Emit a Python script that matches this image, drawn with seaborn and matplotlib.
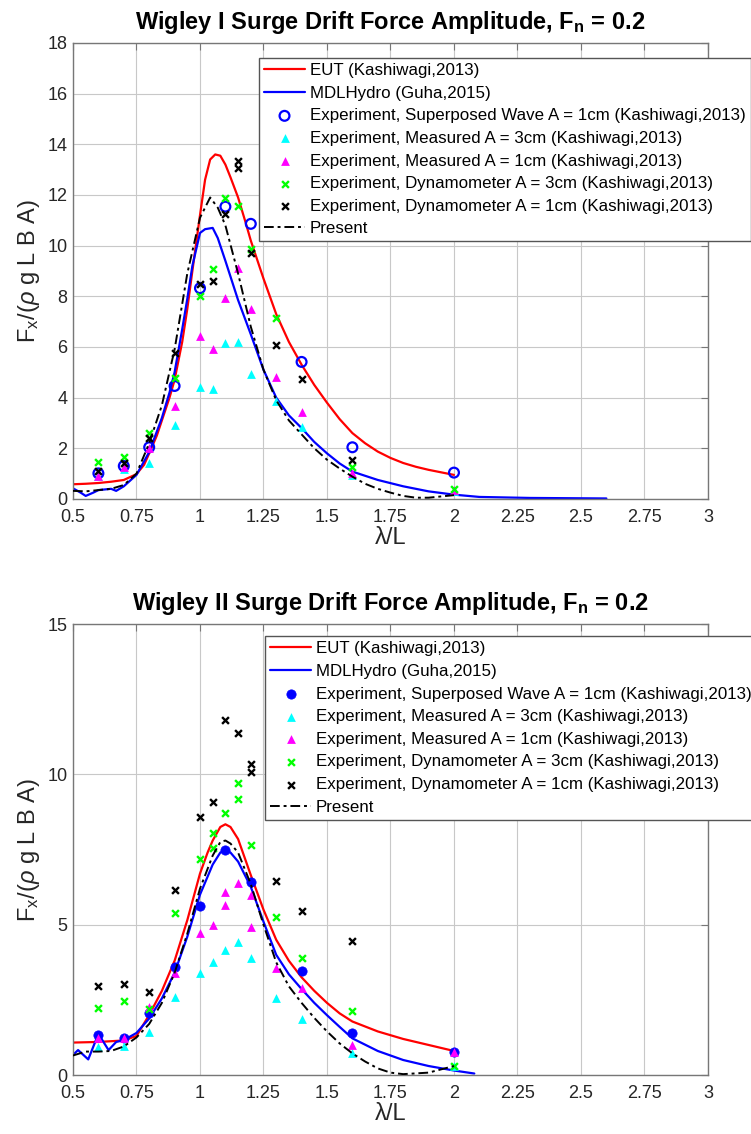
import numpy as np
import pandas as pd
import matplotlib
matplotlib.use("Agg")
import matplotlib.pyplot as plt
import seaborn as sns

# ---------------- data: Wigley I ----------------
w1_eut_x = [0.5, 0.55, 0.6, 0.65, 0.7, 0.75, 0.78, 0.8, 0.83, 0.85, 0.88, 0.9, 0.93, 0.95, 0.97, 1.0, 1.02, 1.04, 1.06, 1.08, 1.1, 1.12, 1.15, 1.18, 1.2, 1.25, 1.3, 1.35, 1.4, 1.45, 1.5, 1.55, 1.6, 1.65, 1.7, 1.75, 1.8, 1.85, 1.9, 1.95, 2.0]
w1_eut_y = [0.58, 0.6, 0.63, 0.68, 0.75, 0.98, 1.35, 1.8, 2.5, 3.1, 4.0, 4.7, 6.2, 7.5, 9.0, 11.2, 12.6, 13.4, 13.6, 13.55, 13.2, 12.7, 11.9, 10.9, 10.2, 8.7, 7.3, 6.2, 5.3, 4.5, 3.8, 3.15, 2.6, 2.2, 1.87, 1.62, 1.42, 1.27, 1.15, 1.05, 0.95]
w1_mdl_x = [0.5, 0.53, 0.55, 0.58, 0.6, 0.65, 0.67, 0.7, 0.75, 0.8, 0.85, 0.88, 0.9, 0.93, 0.95, 0.97, 1.0, 1.02, 1.05, 1.07, 1.1, 1.15, 1.2, 1.25, 1.3, 1.35, 1.4, 1.45, 1.5, 1.55, 1.6, 1.7, 1.8, 1.9, 2.0, 2.1, 2.3, 2.6]
w1_mdl_y = [0.42, 0.25, 0.12, 0.25, 0.35, 0.4, 0.32, 0.5, 0.95, 1.85, 3.2, 4.2, 5.0, 6.7, 7.9, 9.2, 10.5, 10.65, 10.7, 10.3, 9.4, 7.85, 6.5, 5.1, 4.0, 3.3, 2.8, 2.25, 1.8, 1.4, 1.08, 0.75, 0.5, 0.3, 0.17, 0.08, 0.04, 0.02]
w1_pre_x = [0.5, 0.55, 0.6, 0.65, 0.7, 0.75, 0.8, 0.85, 0.9, 0.95, 1.0, 1.04, 1.07, 1.1, 1.15, 1.2, 1.25, 1.3, 1.35, 1.4, 1.45, 1.5, 1.55, 1.6, 1.65, 1.7, 1.75, 1.8, 1.85, 1.9, 2.0]
w1_pre_y = [0.32, 0.3, 0.35, 0.4, 0.55, 1.0, 2.2, 3.7, 5.9, 8.9, 11.1, 11.9, 11.5, 10.8, 8.9, 6.8, 5.1, 3.9, 3.1, 2.55, 2.0, 1.55, 1.2, 0.88, 0.6, 0.4, 0.25, 0.12, 0.05, 0.05, 0.15]

w1_sup_x = [0.6, 0.7, 0.8, 0.9, 1.0, 1.1, 1.2, 1.4, 1.6, 2.0]
w1_sup_y = [1.01, 1.30, 2.04, 4.46, 8.32, 11.54, 10.86, 5.41, 2.04, 1.04]
w1_m3_x = [0.6, 0.7, 0.8, 0.9, 1.0, 1.05, 1.1, 1.15, 1.2, 1.3, 1.4, 1.6, 2.0]
w1_m3_y = [0.9, 1.17, 1.43, 2.92, 4.41, 4.33, 6.17, 6.19, 4.93, 3.88, 2.83, 0.95, 0.3]
w1_m1_x = [0.6, 0.7, 0.8, 0.9, 1.0, 1.05, 1.1, 1.15, 1.2, 1.3, 1.4, 1.6, 2.0]
w1_m1_y = [0.91, 1.28, 2.0, 3.67, 6.43, 5.92, 7.92, 9.13, 7.51, 4.83, 3.45, 1.04, 0.35]
w1_d3_x = [0.6, 0.7, 0.8, 0.9, 1.0, 1.05, 1.1, 1.15, 1.2, 1.3, 1.6, 2.0]
w1_d3_y = [1.47, 1.65, 2.59, 4.76, 8.03, 9.07, 11.87, 11.57, 9.88, 7.16, 1.28, 0.4]
w1_d1_x = [0.6, 0.7, 0.8, 0.9, 1.0, 1.05, 1.1, 1.15, 1.15, 1.2, 1.3, 1.4, 1.6]
w1_d1_y = [1.12, 1.41, 2.40, 5.78, 8.48, 8.62, 11.25, 13.35, 13.05, 9.72, 6.07, 4.73, 1.54]

# ---------------- data: Wigley II ----------------
w2_eut_x = [0.5, 0.6, 0.7, 0.75, 0.8, 0.85, 0.9, 0.95, 1.0, 1.03, 1.05, 1.08, 1.1, 1.12, 1.15, 1.2, 1.25, 1.3, 1.35, 1.4, 1.45, 1.5, 1.55, 1.6, 1.7, 1.8, 1.9, 2.0]
w2_eut_y = [1.08, 1.1, 1.15, 1.3, 2.0, 2.8, 3.8, 5.15, 6.7, 7.4, 7.8, 8.25, 8.34, 8.25, 7.85, 6.65, 5.5, 4.5, 3.8, 3.25, 2.8, 2.4, 2.05, 1.78, 1.45, 1.2, 1.0, 0.8]
w2_mdl_x = [0.5, 0.52, 0.56, 0.6, 0.64, 0.67, 0.7, 0.75, 0.8, 0.85, 0.9, 0.95, 1.0, 1.05, 1.08, 1.1, 1.12, 1.15, 1.2, 1.25, 1.3, 1.35, 1.4, 1.45, 1.5, 1.55, 1.6, 1.7, 1.8, 1.9, 2.0, 2.08]
w2_mdl_y = [0.67, 0.83, 0.52, 1.37, 0.83, 1.1, 1.16, 1.4, 1.88, 2.55, 3.4, 4.6, 6.0, 7.0, 7.4, 7.48, 7.4, 7.1, 6.26, 5.1, 4.0, 3.35, 2.86, 2.4, 1.99, 1.6, 1.22, 0.8, 0.5, 0.3, 0.15, 0.05]
w2_pre_x = [0.5, 0.55, 0.6, 0.65, 0.7, 0.75, 0.8, 0.85, 0.9, 0.95, 1.0, 1.05, 1.08, 1.1, 1.12, 1.15, 1.2, 1.25, 1.3, 1.35, 1.4, 1.45, 1.5, 1.55, 1.6, 1.65, 1.7, 1.75, 1.8, 1.9, 2.0]
w2_pre_y = [0.65, 0.78, 0.78, 0.8, 0.95, 1.25, 1.7, 2.4, 3.4, 4.7, 6.2, 7.3, 7.75, 7.8, 7.7, 7.4, 6.35, 5.0, 3.75, 2.95, 2.4, 1.9, 1.45, 1.05, 0.72, 0.45, 0.22, 0.08, 0.03, 0.08, 0.3]

w2_sup_x = [0.6, 0.7, 0.8, 0.9, 1.0, 1.1, 1.2, 1.4, 1.6, 2.0]
w2_sup_y = [1.33, 1.22, 2.05, 3.60, 5.62, 7.50, 6.43, 3.46, 1.39, 0.78]
w2_m3_x = [0.6, 0.7, 0.8, 0.9, 1.0, 1.05, 1.1, 1.15, 1.2, 1.3, 1.4, 1.6, 2.0]
w2_m3_y = [0.92, 0.97, 1.42, 2.60, 3.40, 3.77, 4.16, 4.43, 3.90, 2.57, 1.86, 0.74, 0.3]
w2_m1_x = [0.6, 0.7, 0.8, 0.9, 1.0, 1.05, 1.1, 1.1, 1.15, 1.2, 1.2, 1.3, 1.4, 1.6, 2.0]
w2_m1_y = [1.22, 1.22, 2.25, 3.40, 4.74, 4.99, 5.65, 6.10, 6.40, 5.99, 4.91, 3.57, 2.88, 1.0, 0.75]
w2_d3_x = [0.6, 0.7, 0.8, 0.9, 1.0, 1.05, 1.05, 1.1, 1.15, 1.15, 1.2, 1.3, 1.4, 1.6, 2.0]
w2_d3_y = [2.24, 2.46, 2.2, 5.38, 7.17, 8.06, 7.54, 8.72, 9.72, 9.18, 7.64, 5.26, 3.88, 2.14, 0.3]
w2_d1_x = [0.6, 0.7, 0.8, 0.9, 1.0, 1.05, 1.1, 1.15, 1.2, 1.2, 1.3, 1.4, 1.6]
w2_d1_y = [2.97, 3.03, 2.75, 6.15, 8.59, 9.09, 11.81, 11.36, 10.34, 10.07, 6.46, 5.45, 4.46]

x_ticks = [0.5, 0.75, 1, 1.25, 1.5, 1.75, 2, 2.25, 2.5, 2.75, 3]
x_ticklabels = ["0.5", "0.75", "1", "1.25", "1.5", "1.75", "2", "2.25", "2.5", "2.75", "3"]

labels = ["EUT (Kashiwagi,2013)",
          "MDLHydro (Guha,2015)",
          "Experiment, Superposed Wave A = 1cm (Kashiwagi,2013)",
          "Experiment, Measured A = 3cm (Kashiwagi,2013)",
          "Experiment, Measured A = 1cm (Kashiwagi,2013)",
          "Experiment, Dynamometer A = 3cm (Kashiwagi,2013)",
          "Experiment, Dynamometer A = 1cm (Kashiwagi,2013)",
          "Present"]

# ---------------- style ----------------
sns.set_theme(style="white")
plt.rcParams["font.family"] = ["Liberation Sans", "DejaVu Sans"]
plt.rcParams["mathtext.fontset"] = "custom"
plt.rcParams["mathtext.rm"] = "Liberation Sans"
plt.rcParams["mathtext.it"] = "Liberation Sans:italic"
plt.rcParams["mathtext.bf"] = "Liberation Sans:bold"

fig = plt.figure(figsize=(7.51, 11.34), dpi=100)
ax1 = fig.add_axes([0.0972, 0.5600, 0.8455, 0.4021])
ax2 = fig.add_axes([0.0972, 0.0520, 0.8455, 0.3977])


def draw(ax, eut, mdl, pre, sup, m3, m1, d3, d1, sup_filled):
    sns.lineplot(x=eut[0], y=eut[1], ax=ax, color="#ff0000", lw=1.6, sort=False,
                 estimator=None, label=labels[0], zorder=2)
    sns.lineplot(x=mdl[0], y=mdl[1], ax=ax, color="#0000ff", lw=1.6, sort=False,
                 estimator=None, label=labels[1], zorder=2)
    if sup_filled:
        sns.scatterplot(x=sup[0], y=sup[1], ax=ax, marker="o", s=45, color="#0000ff",
                        edgecolor="#0000ff", linewidth=0.5, label=labels[2], zorder=3)
    else:
        sns.scatterplot(x=sup[0], y=sup[1], ax=ax, marker="o", s=50, color="#0000ff",
                        linewidth=1.6, label=labels[2], zorder=3)
        coll = ax.collections[-1]
        coll.set_facecolor("none")
        coll.set_edgecolor("#0000ff")
    sns.scatterplot(x=m3[0], y=m3[1], ax=ax, marker="^", s=40, color="#00ffff",
                    linewidth=0, label=labels[3], zorder=3)
    sns.scatterplot(x=m1[0], y=m1[1], ax=ax, marker="^", s=40, color="#ff00ff",
                    linewidth=0, label=labels[4], zorder=3)
    sns.scatterplot(x=d3[0], y=d3[1], ax=ax, marker="x", s=24, color="#00ff00",
                    linewidth=1.7, label=labels[5], zorder=3)
    sns.scatterplot(x=d1[0], y=d1[1], ax=ax, marker="x", s=24, color="#000000",
                    linewidth=1.7, label=labels[6], zorder=3)
    sns.lineplot(x=pre[0], y=pre[1], ax=ax, color="#000000", lw=1.4, sort=False,
                 estimator=None, label=labels[7], zorder=4)
    ax.lines[-1].set_dashes([5, 2, 1.5, 2])


draw(ax1, (w1_eut_x, w1_eut_y), (w1_mdl_x, w1_mdl_y), (w1_pre_x, w1_pre_y),
     (w1_sup_x, w1_sup_y), (w1_m3_x, w1_m3_y), (w1_m1_x, w1_m1_y),
     (w1_d3_x, w1_d3_y), (w1_d1_x, w1_d1_y), sup_filled=False)
draw(ax2, (w2_eut_x, w2_eut_y), (w2_mdl_x, w2_mdl_y), (w2_pre_x, w2_pre_y),
     (w2_sup_x, w2_sup_y), (w2_m3_x, w2_m3_y), (w2_m1_x, w2_m1_y),
     (w2_d3_x, w2_d3_y), (w2_d1_x, w2_d1_y), sup_filled=True)

titles = [r"Wigley I Surge Drift Force Amplitude, F$_\mathregular{n}$ = 0.2",
          r"Wigley II Surge Drift Force Amplitude, F$_\mathregular{n}$ = 0.2"]
ylims = [(0, 18), (0, 15)]
yticks = [list(range(0, 19, 2)), [0, 5, 10, 15]]
leg_anchor = [(0.345, 0.9489), (0.353, 0.4390)]

for ax, title, yl, yt, anc in zip([ax1, ax2], titles, ylims, yticks, leg_anchor):
    ax.set_xlim(0.5, 3)
    ax.set_ylim(*yl)
    ax.set_xticks(x_ticks)
    ax.set_xticklabels(x_ticklabels)
    ax.set_yticks(yt)
    ax.grid(True, color="#c8c8c8", lw=0.8)
    ax.set_axisbelow(True)
    for sp in ax.spines.values():
        sp.set_color("#777777")
        sp.set_linewidth(1.0)
        sp.set_visible(True)
    ax.tick_params(axis="both", direction="in", length=5, width=0.8, color="#777777",
                   labelsize=13, labelcolor="#262626", top=True, right=True)
    ax.tick_params(axis="x", pad=7)
    ax.tick_params(axis="y", pad=4)
    ax.set_title(title, fontsize=17, fontweight="bold", pad=10, color="#000000")
    ax.set_xlabel("λ/L", fontsize=17, color="#262626", labelpad=1)
    ax.set_ylabel(r"F$_\mathregular{x}$/($\rho$ g L B A)", fontsize=17, color="#262626", labelpad=4)
    handles, labs = ax.get_legend_handles_labels()
    order = [labs.index(l) for l in labels]
    leg = ax.legend([handles[i] for i in order], [labs[i] for i in order],
                    loc="upper left", bbox_to_anchor=anc, bbox_transform=fig.transFigure,
                    fontsize=12.2, frameon=True, fancybox=False, framealpha=1,
                    edgecolor="#555555", handlelength=2.4, handletextpad=0.3,
                    labelspacing=0.45, borderpad=0.3, borderaxespad=0)
    leg.get_frame().set_linewidth(1.0)
    for t in leg.get_texts():
        t.set_color("#000000")

fig.savefig("out.png", dpi=100)
